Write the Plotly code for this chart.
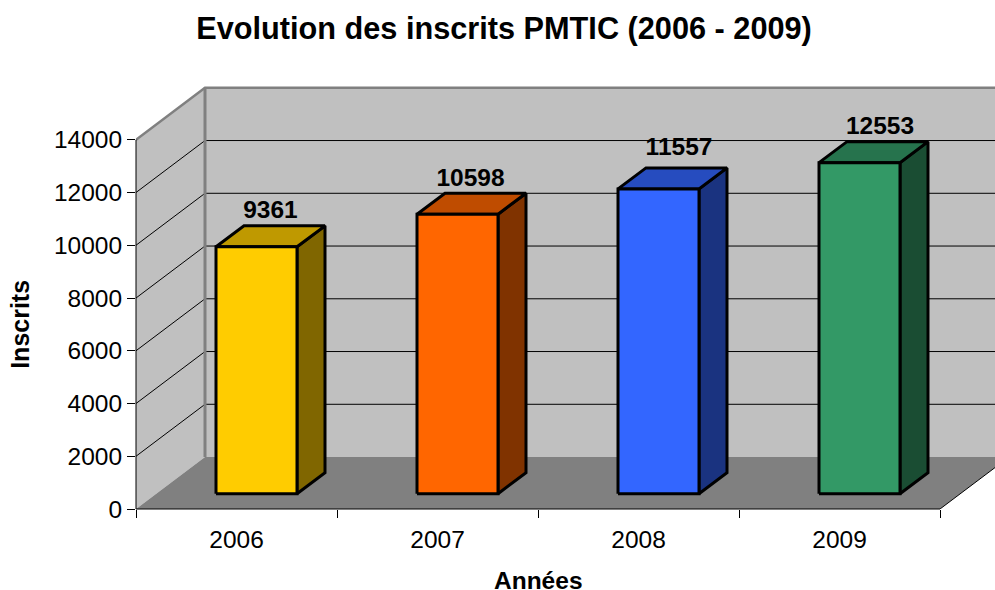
import plotly.graph_objects as go

# ---- data ----
years = ["2006", "2007", "2008", "2009"]
inscrits = [9361, 10598, 11557, 12553]
y_ticks = [0, 2000, 4000, 6000, 8000, 10000, 12000, 14000]
front_colors = ["#FFCC00", "#FF6600", "#3366FF", "#339966"]
top_colors = ["#BF9900", "#BF4C00", "#264CBF", "#26734D"]
side_colors = ["#806600", "#803300", "#1A3380", "#1A4D33"]

# ---- layout of the pseudo 3-D box (pixels on the page) ----
W, H = 995, 590
LEFT, BOTTOM, TOP = 136, 509.3, 80
CAT_PX = 201.0
UNIT_PX = 369.5 / 14000
N = len(years)
XMAX = (W - LEFT) / CAT_PX
YMAX = (BOTTOM - TOP) / UNIT_PX

def px_x(p):
    return p / CAT_PX

def px_y(p):
    return p / UNIT_PX

WALL_DX, WALL_DY = px_x(69), px_y(52)
BAR_GAP, BAR_W = px_x(80), px_x(81)
BAR_LIFT = px_y(15.3)
BAR_DX, BAR_DY = px_x(28), px_y(21)
YTOP = y_ticks[-1]
LABEL_NUDGE_X = [0, -1, 6.5, 6.5]
LABEL_NUDGE_Y = [0, -1, 4.5, 0]

fig = go.Figure()

def poly(xs, ys, fill=None, color="black", width=0):
    fig.add_trace(go.Scatter(
        x=xs, y=ys, mode="lines", hoverinfo="skip", showlegend=False,
        fill="toself" if fill else "none", fillcolor=fill,
        line=dict(color=color, width=width),
    ))

# back wall, side wall, floor
poly([WALL_DX, N + WALL_DX, N + WALL_DX, WALL_DX, WALL_DX],
     [WALL_DY, WALL_DY, YTOP + WALL_DY, YTOP + WALL_DY, WALL_DY], fill="#C0C0C0")
poly([0, WALL_DX, WALL_DX, 0, 0], [0, WALL_DY, YTOP + WALL_DY, YTOP, 0], fill="#C0C0C0")
poly([0, N, N + WALL_DX, WALL_DX, 0], [0, 0, WALL_DY, WALL_DY, 0], fill="#808080")

# gridlines
for v in y_ticks[1:-1]:
    poly([0, WALL_DX, N + WALL_DX], [v, v + WALL_DY, v + WALL_DY], color="#000000", width=1)

# grey box edges
poly([0, WALL_DX, N + WALL_DX], [YTOP, YTOP + WALL_DY, YTOP + WALL_DY], color="#808080", width=2.5)
poly([WALL_DX, WALL_DX], [WALL_DY, YTOP + WALL_DY], color="#808080", width=3)
poly([N, N + WALL_DX], [0, WALL_DY], color="#000000", width=1)

# bars
for i, v in enumerate(inscrits):
    x0 = i + BAR_GAP
    x1 = x0 + BAR_W
    y0 = BAR_LIFT
    y1 = y0 + v
    poly([x1, x1 + BAR_DX, x1 + BAR_DX, x1, x1],
         [y0, y0 + BAR_DY, y1 + BAR_DY, y1, y0], fill=side_colors[i], color="#000000", width=3)
    poly([x0, x1, x1 + BAR_DX, x0 + BAR_DX, x0],
         [y1, y1, y1 + BAR_DY, y1 + BAR_DY, y1], fill=top_colors[i], color="#000000", width=3)
    poly([x0, x1, x1, x0, x0], [y0, y0, y1, y1, y0], fill=front_colors[i], color="#000000", width=3)

# value labels
fig.add_trace(go.Scatter(
    x=[i + BAR_GAP + BAR_W / 2 + BAR_DX / 2 + px_x(LABEL_NUDGE_X[i]) for i in range(N)],
    y=[v + BAR_LIFT + BAR_DY + px_y(2 + LABEL_NUDGE_Y[i]) for i, v in enumerate(inscrits)],
    mode="text", text=[str(v) for v in inscrits], textposition="top center",
    textfont=dict(family="Liberation Sans", size=24.5, color="#000000"),
    texttemplate="<b>%{text}</b>", hoverinfo="skip", showlegend=False, cliponaxis=False,
))

fig.update_layout(
    width=W, height=H, autosize=False,
    margin=dict(l=LEFT, r=0, t=TOP, b=H - BOTTOM, pad=0),
    paper_bgcolor="#FFFFFF", plot_bgcolor="#FFFFFF",
    font=dict(family="Liberation Sans", size=24.5, color="#000000"),
    showlegend=False,
    title=dict(text="<b>Evolution des inscrits PMTIC (2006 - 2009)</b>",
               x=504 / W, xanchor="center", y=1 - 28 / H, yanchor="middle",
               font=dict(size=30.7, family="Liberation Sans", color="#000000")),
    xaxis=dict(range=[0, XMAX], showgrid=False, zeroline=False, showline=False,
               tickmode="array", tickvals=[i + 0.5 for i in range(N)], ticktext=years,
               ticks="", ticklen=0, tickfont=dict(size=24.5), ticklabelstandoff=13,
               minor=dict(tickmode="array", tickvals=list(range(N + 1)), ticks="outside",
                          ticklen=8, tickwidth=1, tickcolor="#000000", showgrid=False)),
    yaxis=dict(range=[0, YMAX], showgrid=False, zeroline=False, showline=False,
               tickmode="array", tickvals=y_ticks, ticktext=[str(t) for t in y_ticks],
               ticks="outside", ticklen=8, tickwidth=1, tickcolor="#000000",
               tickfont=dict(size=24.5)),
    shapes=[
        dict(type="line", xref="paper", yref="y", x0=0, x1=0, y0=0, y1=YTOP,
             line=dict(color="#000000", width=1), layer="above"),
        dict(type="line", xref="x", yref="paper", x0=0, x1=N, y0=0, y1=0,
             line=dict(color="#000000", width=1), layer="above"),
    ],
    annotations=[
        dict(text="<b>Années</b>", xref="paper", yref="paper", showarrow=False,
             x=(538 - LEFT) / (W - LEFT), y=-(580.5 - BOTTOM) / (BOTTOM - TOP), yanchor="middle",
             xanchor="center", font=dict(size=24.5)),
        dict(text="<b>Inscrits</b>", xref="paper", yref="paper", showarrow=False, textangle=-90,
             x=-(136 - 20) / (W - LEFT), xanchor="center", yanchor="middle",
             y=(BOTTOM - 325) / (BOTTOM - TOP), font=dict(size=25)),
    ],
)

fig.write_html("out.html", config={"displayModeBar": False},
               post_script="document.body.style.margin='0';document.documentElement.style.overflow='hidden';")
